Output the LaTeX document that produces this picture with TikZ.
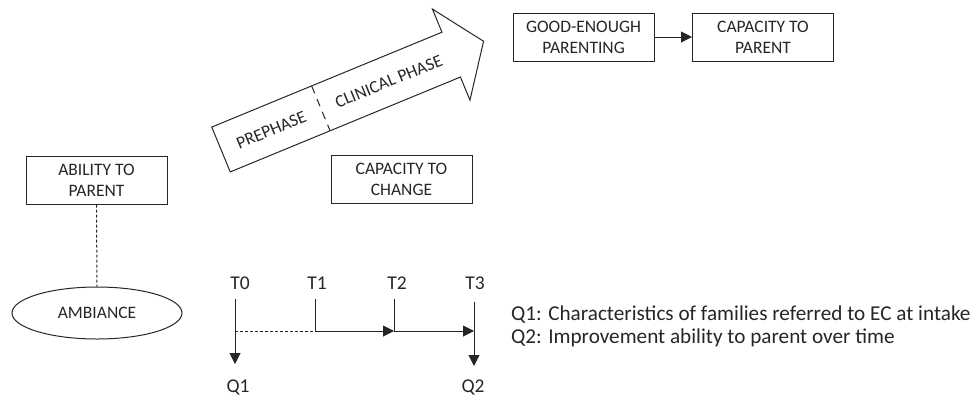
\documentclass[tikz,border=0pt]{standalone}
\usepackage{fontspec}
\setmainfont{Carlito}
\usetikzlibrary{arrows.meta,shapes.geometric}
\definecolor{ink}{HTML}{262626}
\tikzset{
  box/.style={draw=ink, line width=1pt, minimum width=141pt, minimum height=48pt, align=center, inner sep=0pt, font=\fontsize{17.5}{21}\selectfont, text=ink},
  lbl/.style={inner sep=0pt, font=\fontsize{19.5}{23}\selectfont, text=ink},
  arrtxt/.style={inner sep=0pt, font=\fontsize{17.5}{21}\selectfont, text=ink, rotate=22.4},
  qtxt/.style={inner sep=0pt, anchor=west, font=\fontsize{21.2}{24}\selectfont, text=ink},
  ln/.style={draw=ink, line width=1pt},
  shortdash/.style={dash pattern=on 3pt off 2pt},
  tip/.style={-{Triangle[length=11pt,width=11pt]}},
}
\begin{document}
\begin{tikzpicture}[x=1pt,y=-1pt]
\useasboundingbox (0,0) rectangle (976,397);
% boxes
\node[box] (ability) at (96.5,180) {ABILITY TO\\PARENT};
\node[draw=ink, line width=1pt, ellipse, minimum width=170pt, minimum height=52pt, inner sep=0pt, font=\fontsize{17.5}{21}\selectfont, text=ink] (amb) at (97,313) {AMBIANCE};
\draw[ln, shortdash] (ability) -- (amb);
\node[box] (cchange) at (401.5,179.5) {CAPACITY TO\\CHANGE};
\node[box] (good) at (583.5,37) {GOOD-ENOUGH\\PARENTING};
\node[box] (cparent) at (763,37) {CAPACITY TO\\PARENT};
\draw[ln, tip] (good) -- (cparent);
% big arrow
\begin{scope}[shift={(221,149.5)}, rotate=22.4]
  \draw[ln] (0,-24.25) -- (249,-24.25) -- (249,-49.25) -- (284,0) -- (249,49.25) -- (249,24.25) -- (0,24.25) -- cycle;
  \coordinate (d1) at (108,-24.25);
  \coordinate (d2) at (108,24.25);
  \draw[ln, dash pattern=on 8pt off 6pt] (d1) -- (d2);
  \node[arrtxt] (pre) at (54,1) {PREPHASE};
  \node[arrtxt] (clin) at (181,1) {CLINICAL PHASE};
\end{scope}
% timeline
\node[lbl] (T0) at (240,283) {T0};
\node[lbl] (T1) at (317,283) {T1};
\node[lbl] (T2) at (397,283) {T2};
\node[lbl] (T3) at (475,283) {T3};
\node[lbl] (Q1) at (238,387) {Q1};
\node[lbl] (Q2) at (473,387) {Q2};
\coordinate (a0) at (235,299);
\coordinate (m0) at (235,331);
\coordinate (b0) at (235,364);
\coordinate (a1) at (315,299);
\coordinate (m1) at (315,331);
\coordinate (a2) at (394,299);
\coordinate (m2) at (394,331);
\coordinate (a3) at (474,302);
\coordinate (m3) at (474,331);
\coordinate (b3) at (474,366);
\draw[ln, tip] (a0) -- (b0);
\draw[ln, shortdash] (m0) -- (m1);
\draw[ln] (a1) -- (m1);
\draw[ln, tip] (m1) -- (m2);
\draw[ln] (a2) -- (m2);
\draw[ln, tip] (m2) -- (m3);
\draw[ln, tip] (a3) -- (b3);
% questions
\node[qtxt] (q1t) at (511,315) {Q1: Characteristics of families referred to EC at intake};
\node[qtxt] (q2t) at (511,338) {Q2: Improvement ability to parent over time};
\end{tikzpicture}
\end{document}
